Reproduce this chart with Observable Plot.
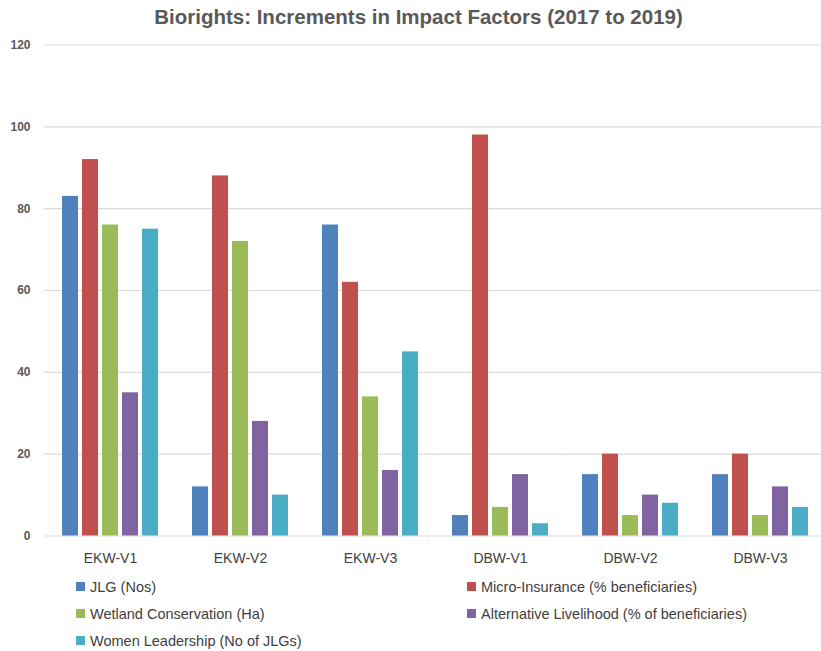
<!DOCTYPE html>
<html>
<head>
<meta charset="utf-8">
<script src="https://cdn.jsdelivr.net/npm/d3@7"></script>
<script src="https://cdn.jsdelivr.net/npm/@observablehq/plot@0.6"></script>
<style>
  html, body { margin: 0; padding: 0; background: #fff; }
  body { width: 821px; font-family: "Liberation Sans", Arial, sans-serif; }
  #title {
    height: 34px; line-height: 34px; padding-left: 16px;
    text-align: center; font-weight: bold; font-size: 20.5px; color: #595959;
  }
  #chart svg { display: block; }
  #legend {
    display: grid; grid-template-columns: 391px auto; grid-auto-rows: 27px;
    padding-left: 76px; margin-top: -3px;
    font-size: 14.5px; color: #404040;
  }
  .item { display: flex; align-items: center; }
  .swatch { width: 9px; height: 9px; margin-right: 5px; flex: none; }
</style>
</head>
<body>
<div id="title">Biorights: Increments in Impact Factors (2017 to 2019)</div>
<div id="chart"></div>
<div id="legend"></div>
<script>
// Sites along the x axis
const sites = ["EKW-V1", "EKW-V2", "EKW-V3", "DBW-V1", "DBW-V2", "DBW-V3"];

// Impact indicators (one bar per indicator within each site)
const indicators = [
  "JLG (Nos)",
  "Micro-Insurance (% beneficiaries)",
  "Wetland Conservation (Ha)",
  "Alternative Livelihood (% of beneficiaries)",
  "Women Leadership (No of JLGs)"
];

// Increments per site, one array per indicator
const jlg             = [83, 12, 76,  5, 15, 15];
const microInsurance  = [92, 88, 62, 98, 20, 20];
const wetland         = [76, 72, 34,  7,  5,  5];
const altLivelihood   = [35, 28, 16, 15, 10, 12];
const womenLeadership = [75, 10, 45,  3,  8,  7];

const colors = ["#4f81bd", "#c0504d", "#9bbb59", "#8064a2", "#4bacc6"];
const yTicks = [0, 20, 40, 60, 80, 100, 120];

const series = [jlg, microInsurance, wetland, altLivelihood, womenLeadership];
const rows = [];
sites.forEach((site, i) => {
  indicators.forEach((ind, j) => {
    rows.push({site, indicator: ind, value: series[j][i]});
  });
});

const chart = Plot.plot({
  width: 821,
  height: 542,
  marginTop: 10.5,
  marginBottom: 40.5,
  marginLeft: 42,
  marginRight: 0,
  style: {fontFamily: "'Liberation Sans', Arial, sans-serif", background: "#fff"},
  fx: {domain: sites, paddingInner: 0.234, paddingOuter: 0.0995, align: 0.615, label: null, axis: null},
  x: {domain: indicators, paddingInner: 0.2, paddingOuter: 0.1, axis: null},
  y: {domain: [0, 120], axis: null},
  color: {domain: indicators, range: colors},
  marks: [
    // gridlines repeat in every site panel; widen each so they join across the gaps
    Plot.ruleY(yTicks, {stroke: "#d9d9d9", strokeWidth: 1.2, insetLeft: -15.6, insetRight: -15.6}),
    Plot.axisY({
      ticks: yTicks, tickSize: 0, tickPadding: 30, label: null,
      fontSize: 12, fontWeight: "bold", fill: "#595959"
    }),
    Plot.barY(rows, {fx: "site", x: "indicator", y: "value", fill: "indicator"}),
    Plot.axisFx({
      anchor: "bottom", tickSize: 0, tickPadding: 17, label: null,
      fontSize: 14, fill: "#404040"
    })
  ]
});
document.getElementById("chart").appendChild(chart);

// Legend: two columns, filled row by row
const legend = d3.select("#legend");
indicators.forEach((ind, j) => {
  const item = legend.append("div").attr("class", "item");
  item.append("span").attr("class", "swatch").style("background", colors[j]);
  item.append("span").text(ind);
});
</script>
</body>
</html>
